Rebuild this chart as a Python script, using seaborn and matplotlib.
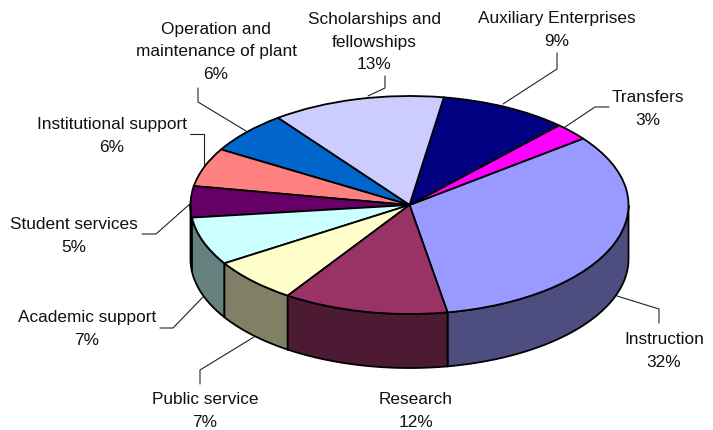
import numpy as np
import matplotlib
matplotlib.use("Agg")
import matplotlib.pyplot as plt
import seaborn as sns

# slices, anticlockwise from the Instruction / Research edge
names = ["Instruction", "Transfers", "Auxiliary Enterprises", "Scholarships and\nfellowships",
         "Operation and\nmaintenance of plant", "Institutional support", "Student services",
         "Academic support", "Public service", "Research"]
values = [32.49, 2.6, 9.4, 12.7, 6.2, 5.7, 4.6, 7.1, 6.6, 12.1]
top_colors = ["#9999FF", "#FF00FF", "#000080", "#CCCCFF", "#0066CC",
              "#FF8080", "#660066", "#CCFFFF", "#FFFFCC", "#993366"]

# label centres and leader lines, in image pixels
label_x = [664, 648, 557, 374, 216, 112, 74, 87, 205, 416]
label_y = [351, 109, 30, 42, 52, 136, 236, 329, 411, 411]
leaders = [[(659, 323), (659, 309), (617, 296)],
           [(609, 107), (595, 107), (565, 127)],
           [(557, 53), (557, 69), (503, 104)],
           [(385, 76), (385, 88), (368, 96)],
           [(198, 88), (198, 102), (246, 131)],
           [(190, 134.5), (204, 134.5), (204, 167)],
           [(142, 234), (156, 234), (191, 203)],
           [(160, 328), (173, 328), (203, 297)],
           [(200, 384), (200, 370), (254, 337)],
           None]

W, H = 713, 430
cx, cy = 409.5, 205
rx, ry = 219, 109
depth = 54 / ry

sns.set_theme(style="white")
plt.rcParams["font.family"] = ["Liberation Sans", "DejaVu Sans"]
palette = sns.color_palette(top_colors)

fig = plt.figure(figsize=(W / 100, H / 100), dpi=100)
ax = fig.add_axes([0, 0, 1, 1])

wedges, _ = ax.pie(values, colors=palette, startangle=280, counterclock=True,
                   wedgeprops={"edgecolor": "black", "linewidth": 1.3, "zorder": 3})
ax.set_aspect("auto")
ax.set_xlim(-cx / rx, (W - cx) / rx)
ax.set_ylim((cy - H) / ry, cy / ry)
ax.axis("off")


def to_data(px, py):
    return (px - cx) / rx, (cy - py) / ry


# side wall, only the front half of the cake shows
for wedge, color in zip(wedges, palette):
    theta1, theta2 = wedge.theta1, wedge.theta2
    if theta1 >= 360:
        theta1, theta2 = theta1 - 360, theta2 - 360
    start = max(theta1, 180)
    end = min(theta2, 360)
    if end <= start:
        continue
    t = np.radians(np.linspace(start, end, 60))
    xs = np.concatenate([np.cos(t), np.cos(t[::-1])])
    ys = np.concatenate([np.sin(t), np.sin(t[::-1]) - depth])
    dark = tuple(c * 0.5 for c in color)
    ax.fill(xs, ys, facecolor=dark, edgecolor="black", linewidth=1.3, zorder=2)

for name, value, lx, ly, leader in zip(names, values, label_x, label_y, leaders):
    x, y = to_data(lx, ly)
    ax.text(x, y, f"{name}\n{round(value)}%", ha="center", va="center",
            fontsize=12.4, color="#111111", linespacing=1.62, zorder=5)
    if leader:
        pts = [to_data(*p) for p in leader]
        ax.plot([p[0] for p in pts], [p[1] for p in pts], color="#222222", linewidth=0.8, zorder=1)

fig.savefig("out.png", dpi=100)
